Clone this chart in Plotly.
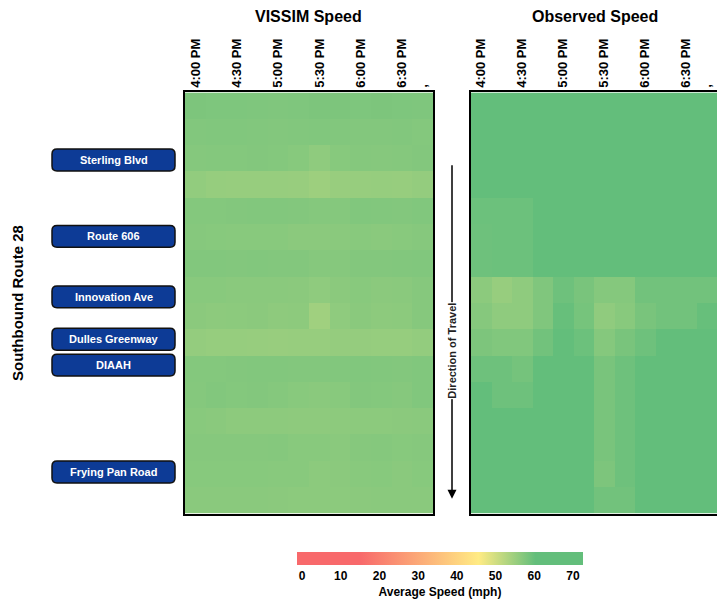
import plotly.graph_objects as go

W, H = 717, 599

# 15-minute intervals, 4:00 PM - 6:45 PM
times = ["4:00 PM", "4:15 PM", "4:30 PM", "4:45 PM", "5:00 PM", "5:15 PM",
         "5:30 PM", "5:45 PM", "6:00 PM", "6:15 PM", "6:30 PM", "6:45 PM"]
tick_times = ["4:00 PM", "4:30 PM", "5:00 PM", "5:30 PM", "6:00 PM", "6:30 PM", "6:45 PM"]
tick_text = ["4:00 PM", "4:30 PM", "5:00 PM", "5:30 PM", "6:00 PM", "6:30 PM", ","]
segments = list(range(16))

vissim_speed = [
    [57.9, 57.8, 57.8, 57.7, 57.6, 57.7, 57.9, 57.9, 57.8, 57.9, 57.8, 57.7],
    [57.4, 57.5, 57.5, 57.4, 57.3, 57.4, 57.5, 57.4, 57.3, 57.3, 57.4, 57.2],
    [57.1, 57.2, 57.2, 57.3, 57.2, 56.9, 56.2, 56.9, 57.1, 57.0, 57.1, 57.3],
    [55.9, 55.5, 55.4, 55.4, 55.4, 55.3, 54.9, 55.3, 55.4, 55.5, 55.4, 55.7],
    [57.2, 57.2, 57.3, 57.4, 57.4, 57.3, 57.1, 57.1, 57.5, 57.4, 57.3, 57.5],
    [57.0, 56.9, 56.8, 56.8, 56.8, 56.6, 56.6, 56.7, 56.8, 56.7, 56.8, 57.0],
    [57.4, 57.4, 57.3, 57.4, 57.3, 57.3, 57.0, 57.0, 57.3, 57.3, 57.4, 57.5],
    [56.8, 56.8, 56.7, 56.7, 56.7, 56.6, 56.2, 56.6, 56.8, 56.6, 56.7, 57.0],
    [56.6, 56.4, 56.5, 56.6, 56.3, 56.4, 54.6, 56.2, 56.7, 56.4, 56.5, 57.0],
    [55.7, 55.5, 55.5, 55.4, 55.3, 55.4, 55.4, 55.6, 55.6, 55.5, 55.5, 55.8],
    [57.2, 57.2, 57.3, 57.4, 57.4, 57.3, 57.3, 57.4, 57.5, 57.4, 57.3, 57.5],
    [57.1, 57.4, 57.2, 57.3, 57.1, 56.8, 56.7, 56.8, 57.3, 57.2, 57.0, 57.5],
    [56.8, 56.7, 56.4, 56.4, 56.4, 56.3, 56.3, 56.4, 56.5, 56.5, 56.6, 56.7],
    [57.0, 57.0, 57.0, 57.0, 57.1, 56.8, 56.8, 56.7, 57.0, 57.1, 56.9, 57.0],
    [56.9, 56.9, 56.9, 56.9, 56.8, 56.8, 56.5, 56.6, 56.8, 56.9, 56.7, 56.9],
    [56.7, 56.7, 56.7, 56.7, 56.6, 56.5, 56.5, 56.5, 56.6, 56.7, 56.7, 56.7],
]

observed_speed = [
    [63.0, 63.0, 63.0, 63.0, 63.0, 63.0, 63.0, 63.0, 63.0, 63.0, 63.0, 63.0],
    [63.0, 63.0, 63.0, 63.0, 63.0, 63.0, 63.0, 63.0, 63.0, 63.0, 63.0, 63.0],
    [63.0, 63.0, 63.0, 63.0, 63.0, 63.0, 63.0, 63.0, 63.0, 63.0, 63.0, 63.0],
    [63.0, 63.0, 63.0, 63.0, 63.0, 63.0, 63.0, 63.0, 63.0, 63.0, 63.0, 63.0],
    [59.5, 59.5, 59.5, 63.0, 63.0, 63.0, 63.0, 63.0, 63.0, 63.0, 63.0, 63.0],
    [59.3, 59.5, 59.5, 63.0, 63.0, 63.0, 63.0, 63.0, 63.0, 63.0, 63.0, 63.0],
    [59.3, 59.5, 59.5, 63.0, 63.0, 63.0, 63.0, 63.0, 63.0, 63.0, 63.0, 63.0],
    [56.5, 55.4, 56.2, 57.6, 59.3, 58.3, 57.1, 57.1, 58.9, 58.9, 58.9, 58.9],
    [57.0, 56.2, 56.2, 57.6, 60.0, 58.5, 56.1, 56.8, 58.3, 58.9, 58.9, 60.0],
    [57.9, 57.5, 57.5, 58.9, 63.0, 59.5, 57.1, 58.3, 59.3, 63.0, 63.0, 63.0],
    [59.3, 59.3, 58.6, 63.0, 63.0, 63.0, 58.3, 59.3, 63.0, 63.0, 63.0, 63.0],
    [63.0, 59.3, 59.3, 63.0, 63.0, 63.0, 58.3, 59.3, 63.0, 63.0, 63.0, 63.0],
    [63.0, 63.0, 63.0, 63.0, 63.0, 63.0, 58.3, 59.3, 63.0, 63.0, 63.0, 63.0],
    [63.0, 63.0, 63.0, 63.0, 63.0, 63.0, 58.3, 59.3, 63.0, 63.0, 63.0, 63.0],
    [63.0, 63.0, 63.0, 63.0, 63.0, 63.0, 57.9, 59.3, 63.0, 63.0, 63.0, 63.0],
    [63.0, 63.0, 63.0, 63.0, 63.0, 63.0, 58.9, 58.9, 63.0, 63.0, 63.0, 63.0],
]

landmarks = ["Sterling Blvd", "Route 606", "Innovation Ave", "Dulles Greenway", "DIAAH", "Frying Pan Road"]
landmark_rows = [2.07, 4.97, 7.27, 8.88, 9.86, 13.92]

speed_ticks = [0, 10, 20, 30, 40, 50, 60, 70]

FONT = "Liberation Sans, Arial, sans-serif"


def px_x(p):
    return p / W


def px_y(p):
    return 1 - p / H


fig = go.Figure()
fig.add_trace(go.Heatmap(x=times, y=segments, z=vissim_speed, coloraxis="coloraxis",
                         xaxis="x", yaxis="y", hoverinfo="skip"))
fig.add_trace(go.Heatmap(x=times, y=segments, z=observed_speed, coloraxis="coloraxis",
                         xaxis="x2", yaxis="y2", hoverinfo="skip"))

xdom1 = [px_x(185), px_x(433)]
xdom2 = [px_x(471), 1.0]
ydom = [px_y(517), px_y(93)]

xcommon = dict(side="top", tickangle=-90, tickvals=tick_times, ticktext=tick_text, ticks="",
               tickfont=dict(family=FONT, size=13, color="black", weight="bold"),
               showline=True, linecolor="black", linewidth=2, showgrid=False, zeroline=False,
               fixedrange=True)
ycommon = dict(autorange="reversed", showticklabels=False, ticks="", showgrid=False,
               zeroline=False, showline=True, linecolor="black", linewidth=2, fixedrange=True)

fig.update_layout(
    width=W, height=H,
    margin=dict(l=0, r=0, t=0, b=0),
    paper_bgcolor="white", plot_bgcolor="white",
    font=dict(family=FONT, color="black"),
    xaxis=dict(domain=xdom1, anchor="y", mirror=True, **xcommon),
    yaxis=dict(domain=ydom, anchor="x", mirror=True, **ycommon),
    xaxis2=dict(domain=xdom2, anchor="y2", mirror=True, **xcommon),
    yaxis2=dict(domain=ydom, anchor="x2", mirror=False, **ycommon),
    coloraxis=dict(
        cmin=-1.3, cmax=72.6,
        colorscale=[[0.0, "#f8696b"], [0.219, "#f8696b"], [0.635, "#ffeb84"],
                    [0.834, "#63be7b"], [1.0, "#63be7b"]],
        colorbar=dict(orientation="h", x=px_x(440), xanchor="center", y=px_y(556), yanchor="top",
                      len=286 / W, lenmode="fraction", thickness=13, xpad=0, ypad=0,
                      outlinewidth=0, ticks="", tickvals=speed_ticks,
                      tickfont=dict(family=FONT, size=12, color="black", weight="bold"),
                      title=dict(text="Average Speed (mph)", side="bottom",
                                 font=dict(family=FONT, size=12, color="black", weight="bold"))),
    ),
    showlegend=False,
)

annotations = [
    dict(text="<b>VISSIM Speed</b>", x=sum(xdom1) / 2, y=px_y(17), xref="paper", yref="paper",
         xanchor="center", yanchor="middle", showarrow=False, font=dict(size=16, color="black")),
    dict(text="<b>Observed Speed</b>", x=(px_x(471) + px_x(719)) / 2, y=px_y(17), xref="paper", yref="paper",
         xanchor="center", yanchor="middle", showarrow=False, font=dict(size=16, color="black")),
    dict(text="<b>Southbound Route 28</b>", x=px_x(18), y=sum(ydom) / 2, xref="paper", yref="paper",
         xanchor="center", yanchor="middle", textangle=-90, showarrow=False,
         font=dict(size=15, color="black")),
    # direction of travel arrow
    dict(text="", x=px_x(452), y=px_y(502), xref="paper", yref="paper", ax=0, ay=-335,
         axref="pixel", ayref="pixel", showarrow=True, arrowhead=2, arrowsize=1.2,
         arrowwidth=1.5, arrowcolor="black"),
    dict(text="<b>Direction of Travel</b>", x=px_x(452), y=px_y(353), xref="paper", yref="paper",
         xanchor="center", yanchor="middle", textangle=-90, showarrow=False, bgcolor="white",
         borderpad=0, font=dict(size=11, color="#222222")),
]

shapes = []
bx0, bx1 = px_x(52), px_x(175)
rx = 5 / W
ry = 5 / 26.5
half_h = 11 / 26.5
for name, r in zip(landmarks, landmark_rows):
    y0, y1 = r - half_h, r + half_h
    path = (f"M {bx0 + rx},{y0} L {bx1 - rx},{y0} Q {bx1},{y0} {bx1},{y0 + ry} "
            f"L {bx1},{y1 - ry} Q {bx1},{y1} {bx1 - rx},{y1} L {bx0 + rx},{y1} "
            f"Q {bx0},{y1} {bx0},{y1 - ry} L {bx0},{y0 + ry} Q {bx0},{y0} {bx0 + rx},{y0} Z")
    shapes.append(dict(type="path", path=path, xref="paper", yref="y",
                       fillcolor="#0d3b96", line=dict(color="#111111", width=1.5)))
    annotations.append(dict(text=f"<b>{name}</b>", x=(bx0 + bx1) / 2, y=r, xref="paper", yref="y",
                            xanchor="center", yanchor="middle", showarrow=False,
                            font=dict(size=11, color="white")))

fig.update_layout(annotations=annotations, shapes=shapes)

# page body has a default 8px margin; drop it so the figure sits at the window corner
fig.write_html("out.html", config={"displayModeBar": False},
               post_script="document.body.style.margin='0px';")
